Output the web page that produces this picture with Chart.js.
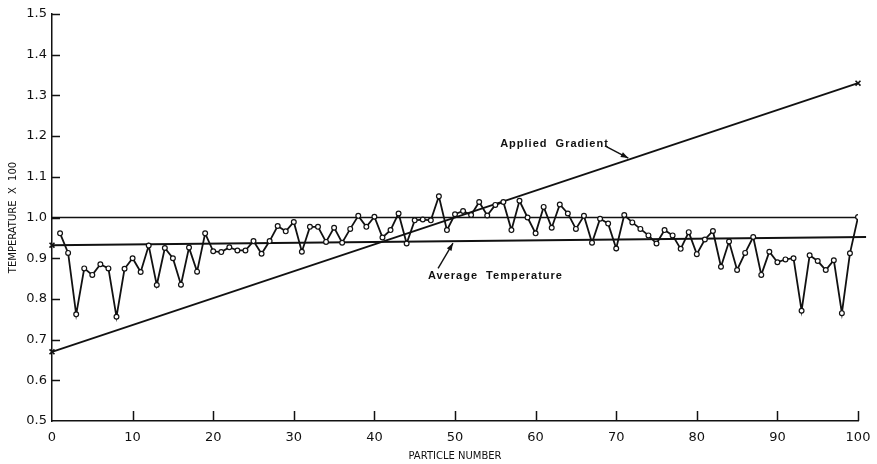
<!DOCTYPE html>
<html>
<head>
<meta charset="utf-8">
<script src="https://cdn.jsdelivr.net/npm/chart.js@4"></script>
<style>
  html, body { margin: 0; padding: 0; background: #fff; }
  #wrap { width: 877px; height: 464px; position: relative; }
</style>
</head>
<body>
<div id="wrap"><canvas id="chart"></canvas></div>
<script>
// particle temperatures
const particleNumbers = [
    1, 2, 3, 4, 5, 6, 7, 8, 9, 10,
    11, 12, 13, 14, 15, 16, 17, 18, 19, 20,
    21, 22, 23, 24, 25, 26, 27, 28, 29, 30,
    31, 32, 33, 34, 35, 36, 37, 38, 39, 40,
    41, 42, 43, 44, 45, 46, 47, 48, 49, 50,
    51, 52, 53, 54, 55, 56, 57, 58, 59, 60,
    61, 62, 63, 64, 65, 66, 67, 68, 69, 70,
    71, 72, 73, 74, 75, 76, 77, 78, 79, 80,
    81, 82, 83, 84, 85, 86, 87, 88, 89, 90,
    91, 92, 93, 94, 95, 96, 97, 98, 99, 100
];
const temperatures = [
    0.961, 0.913, 0.762, 0.875, 0.859, 0.885, 0.875, 0.756, 0.874, 0.900,
    0.866, 0.931, 0.834, 0.925, 0.900, 0.835, 0.926, 0.867, 0.961, 0.917,
    0.915, 0.927, 0.919, 0.919, 0.942, 0.911, 0.942, 0.979, 0.966, 0.989,
    0.916, 0.977, 0.977, 0.940, 0.975, 0.938, 0.972, 1.004, 0.977, 1.002,
    0.951, 0.969, 1.010, 0.936, 0.993, 0.995, 0.993, 1.052, 0.969, 1.008,
    1.016, 1.006, 1.038, 1.005, 1.031, 1.038, 0.969, 1.041, 1.000, 0.961,
    1.026, 0.975, 1.032, 1.010, 0.972, 1.004, 0.938, 0.997, 0.985, 0.924,
    1.006, 0.988, 0.972, 0.956, 0.936, 0.969, 0.956, 0.923, 0.964, 0.910,
    0.946, 0.967, 0.879, 0.941, 0.871, 0.913, 0.952, 0.859, 0.916, 0.890,
    0.897, 0.900, 0.771, 0.907, 0.893, 0.871, 0.895, 0.765, 0.912, 1.001
];

// straight lines
const referenceX = [0, 100];
const referenceY = [1.0, 1.0];
const averageX = [0, 101];
const averageY = [0.932, 0.952];
const gradientX = [0, 100];
const gradientY = [0.67, 1.33];

const xTicks = [0, 10, 20, 30, 40, 50, 60, 70, 80, 90, 100];
const yTicks = [0.5, 0.6, 0.7, 0.8, 0.9, 1.0, 1.1, 1.2, 1.3, 1.4, 1.5];

const ink = '#111';

function toPoints(xs, ys) {
    return xs.map((x, i) => ({ x: x, y: ys[i] }));
}

// inward tick marks, like the drafted original
const innerTicks = {
    id: 'innerTicks',
    afterDraw(chart) {
        const ctx = chart.ctx;
        const area = chart.chartArea;
        const xs = chart.scales.x;
        const ys = chart.scales.y;
        ctx.save();
        ctx.strokeStyle = ink;
        ctx.lineWidth = 1.5;
        ctx.beginPath();
        yTicks.forEach(v => {
            if (v === 0.5) return;
            const py = Math.round(ys.getPixelForValue(v)) + 0.5;
            ctx.moveTo(area.left, py);
            ctx.lineTo(area.left + 8, py);
        });
        xTicks.forEach(v => {
            if (v === 0) return;
            const px = Math.round(xs.getPixelForValue(v)) + 0.5;
            ctx.moveTo(px, area.bottom);
            ctx.lineTo(px, area.bottom - 10);
        });
        ctx.stroke();
        ctx.restore();
    }
};

// text labels with arrows, placed in data units
const callouts = {
    id: 'callouts',
    afterDraw(chart, args, opts) {
        const ctx = chart.ctx;
        const xs = chart.scales.x;
        const ys = chart.scales.y;
        ctx.save();
        ctx.fillStyle = ink;
        ctx.strokeStyle = ink;
        ctx.font = 'bold 11px "Liberation Sans", sans-serif';
        ctx.letterSpacing = '1px';
        ctx.textBaseline = 'middle';
        ctx.textAlign = 'left';
        opts.items.forEach(item => {
            ctx.fillText(item.text, xs.getPixelForValue(item.at[0]), ys.getPixelForValue(item.at[1]));
            const x1 = xs.getPixelForValue(item.from[0]);
            const y1 = ys.getPixelForValue(item.from[1]);
            const x2 = xs.getPixelForValue(item.to[0]);
            const y2 = ys.getPixelForValue(item.to[1]);
            ctx.lineWidth = 1.4;
            ctx.beginPath();
            ctx.moveTo(x1, y1);
            ctx.lineTo(x2, y2);
            ctx.stroke();
            const ang = Math.atan2(y2 - y1, x2 - x1);
            const len = 8, spread = 0.35;
            ctx.beginPath();
            ctx.moveTo(x2, y2);
            ctx.lineTo(x2 - len * Math.cos(ang - spread), y2 - len * Math.sin(ang - spread));
            ctx.lineTo(x2 - len * Math.cos(ang + spread), y2 - len * Math.sin(ang + spread));
            ctx.closePath();
            ctx.fill();
        });
        ctx.restore();
    }
};

const tickFont = { family: '"DejaVu Sans", sans-serif', size: 13 };
const titleFont = { family: '"DejaVu Sans", sans-serif', size: 10 };

new Chart(document.getElementById('chart'), {
    type: 'scatter',
    data: {
        datasets: [
            {
                data: toPoints(particleNumbers, temperatures),
                showLine: true,
                borderColor: ink,
                borderWidth: 1.8,
                pointRadius: 2.4,
                pointBackgroundColor: '#fff',
                pointBorderColor: ink,
                pointBorderWidth: 1.2
            },
            {
                data: toPoints(referenceX, referenceY),
                showLine: true,
                borderColor: ink,
                borderWidth: 1.3,
                pointRadius: 0
            },
            {
                data: toPoints(averageX, averageY),
                showLine: true,
                borderColor: ink,
                borderWidth: 2,
                pointStyle: 'crossRot',
                pointRadius: 3.5,
                pointBorderColor: ink,
                pointBorderWidth: 1.6,
                clip: false
            },
            {
                data: toPoints(gradientX, gradientY),
                showLine: true,
                borderColor: ink,
                borderWidth: 1.8,
                pointStyle: 'crossRot',
                pointRadius: 3.5,
                pointBorderColor: ink,
                pointBorderWidth: 1.6,
                clip: false
            }
        ]
    },
    options: {
        responsive: true,
        maintainAspectRatio: false,
        animation: false,
        layout: { padding: { top: 14, right: 19, left: 0, bottom: 0 } },
        plugins: {
            legend: { display: false },
            tooltip: { enabled: false },
            callouts: {
                items: [
                    { text: 'Applied  Gradient', at: [55.6, 1.18], from: [68.6, 1.176], to: [71.5, 1.146] },
                    { text: 'Average  Temperature', at: [46.65, 0.856], from: [47.9, 0.875], to: [49.75, 0.937] }
                ]
            }
        },
        scales: {
            x: {
                type: 'linear',
                min: 0,
                max: 100,
                afterBuildTicks: s => { s.ticks = xTicks.map(v => ({ value: v })); },
                afterFit: s => { s.height = 43; s.paddingLeft = 0; s.paddingRight = 0; },
                grid: { display: false, drawTicks: false },
                border: { display: true, color: ink, width: 1.5 },
                ticks: { color: ink, font: tickFont, padding: 9, maxRotation: 0 },
                title: {
                    display: true,
                    text: 'PARTICLE NUMBER',
                    color: ink,
                    font: titleFont,
                    padding: { top: 0, bottom: 2 }
                }
            },
            y: {
                min: 0.5,
                max: 1.5,
                afterBuildTicks: s => { s.ticks = yTicks.map(v => ({ value: v })); },
                afterFit: s => { s.width = 52; s.paddingTop = 0; s.paddingBottom = 0; },
                grid: { display: false, drawTicks: false },
                border: { display: true, color: ink, width: 1.5 },
                ticks: {
                    color: ink,
                    font: tickFont,
                    padding: 5,
                    callback: v => v.toFixed(1)
                },
                title: {
                    display: true,
                    text: 'TEMPERATURE  X  100',
                    color: ink,
                    font: titleFont,
                    padding: { top: 7, bottom: 0 }
                }
            }
        }
    },
    plugins: [innerTicks, callouts]
});
</script>
</body>
</html>
